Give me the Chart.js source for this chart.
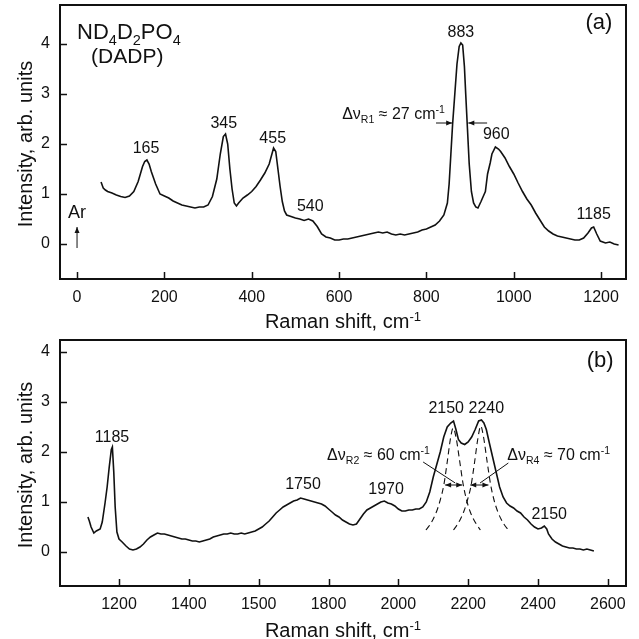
<!DOCTYPE html>
<html>
<head>
<meta charset="utf-8">
<script src="https://cdn.jsdelivr.net/npm/chart.js@4.4.1/dist/chart.umd.min.js"></script>
<style>
  html, body { margin: 0; padding: 0; background: #fff; }
  #wrap { position: relative; width: 639px; height: 639px; }
  canvas { position: absolute; left: 0; }
</style>
</head>
<body>
<div id="wrap">
  <canvas id="cA" width="639" height="335" style="top:0px"></canvas>
  <canvas id="cB" width="639" height="304" style="top:335px"></canvas>
</div>
<script>
// ---------------- DATA ----------------
// Panel (a): Raman spectrum 50-1240 cm-1
const topX = [55,60,65,70,80,90,100,110,120,130,140,150,155,160,165,170,180,190,200,210,220,230,240,250,260,270,280,290,300,310,320,328,335,340,345,350,355,360,365,370,380,390,400,410,420,430,440,450,455,460,465,470,475,480,490,500,510,520,530,540,550,560,570,580,590,600,610,620,630,640,650,660,670,680,690,700,710,720,730,740,750,760,770,780,790,800,810,820,830,840,848,852,856,860,865,870,875,879,883,887,890,894,898,903,908,913,918,925,930,935,940,946,950,958,965,970,980,990,1000,1010,1020,1030,1040,1050,1060,1070,1080,1090,1100,1110,1120,1130,1140,1150,1160,1170,1178,1183,1190,1198,1210,1220,1230,1240];
const topY = [1.24,1.12,1.08,1.05,1.02,0.98,0.95,0.93,0.96,1.05,1.25,1.55,1.65,1.68,1.60,1.45,1.20,1.00,0.96,0.92,0.86,0.82,0.78,0.76,0.74,0.72,0.74,0.74,0.78,0.95,1.30,1.80,2.15,2.20,2.00,1.50,1.10,0.82,0.76,0.82,0.92,0.98,1.05,1.15,1.28,1.42,1.60,1.92,1.85,1.50,1.15,0.85,0.66,0.58,0.55,0.52,0.50,0.47,0.50,0.46,0.35,0.20,0.14,0.12,0.08,0.08,0.10,0.10,0.12,0.14,0.16,0.18,0.20,0.22,0.24,0.22,0.24,0.20,0.18,0.20,0.18,0.20,0.22,0.24,0.28,0.30,0.34,0.38,0.46,0.58,0.82,1.20,1.80,2.40,3.00,3.60,3.95,4.02,3.98,3.55,3.00,2.30,1.60,1.05,0.82,0.74,0.72,0.85,0.95,1.05,1.40,1.62,1.80,1.94,1.90,1.85,1.72,1.55,1.40,1.22,1.05,0.90,0.78,0.62,0.48,0.34,0.26,0.20,0.16,0.14,0.12,0.10,0.08,0.08,0.12,0.22,0.32,0.34,0.20,0.06,0.02,0.04,0.00,-0.02];

// Panel (b): Raman spectrum 1110-2565 cm-1
const botX = [1111,1115,1120,1128,1135,1146,1152,1160,1166,1172,1178,1181,1185,1189,1194,1200,1209,1220,1230,1240,1250,1260,1270,1280,1290,1300,1310,1320,1330,1340,1350,1360,1370,1380,1390,1400,1410,1420,1430,1440,1450,1460,1470,1480,1490,1500,1510,1520,1530,1540,1550,1560,1570,1580,1590,1600,1610,1620,1630,1640,1650,1660,1670,1680,1690,1700,1710,1720,1730,1740,1750,1760,1770,1780,1790,1800,1810,1820,1830,1840,1850,1860,1870,1880,1890,1900,1910,1920,1930,1940,1950,1960,1970,1980,1990,2000,2010,2020,2030,2040,2050,2060,2070,2080,2090,2100,2110,2120,2130,2140,2150,2158,2165,2172,2180,2190,2200,2210,2220,2230,2238,2245,2252,2260,2270,2280,2290,2300,2310,2320,2330,2340,2350,2360,2370,2380,2390,2400,2410,2418,2425,2430,2440,2450,2460,2470,2480,2490,2500,2510,2520,2530,2540,2550,2560];
const botY = [0.70,0.62,0.50,0.38,0.42,0.46,0.60,0.98,1.30,1.70,2.05,2.10,1.60,0.90,0.40,0.26,0.20,0.12,0.06,0.04,0.06,0.10,0.16,0.24,0.30,0.34,0.38,0.36,0.36,0.34,0.32,0.30,0.28,0.26,0.26,0.24,0.22,0.22,0.20,0.22,0.24,0.26,0.30,0.32,0.34,0.36,0.36,0.38,0.36,0.36,0.38,0.36,0.38,0.40,0.42,0.46,0.50,0.56,0.62,0.70,0.78,0.84,0.90,0.94,0.98,1.02,1.04,1.08,1.06,1.04,1.02,1.00,0.98,0.96,0.92,0.86,0.80,0.74,0.70,0.64,0.60,0.56,0.54,0.56,0.66,0.76,0.84,0.88,0.92,0.96,1.00,1.02,0.98,0.96,0.92,0.86,0.82,0.82,0.84,0.84,0.86,0.86,0.90,1.00,1.20,1.50,1.75,2.00,2.30,2.50,2.58,2.62,2.45,2.25,2.18,2.15,2.20,2.30,2.45,2.62,2.64,2.58,2.45,2.20,1.90,1.60,1.30,1.10,0.98,0.92,0.88,0.82,0.78,0.70,0.64,0.56,0.50,0.46,0.48,0.52,0.46,0.36,0.26,0.20,0.16,0.12,0.10,0.08,0.08,0.06,0.06,0.04,0.06,0.04,0.02];

// Panel (b): fitted components (dashed)
const comp1X = [2079,2090,2100,2110,2120,2130,2140,2150,2157,2165,2175,2185,2195,2205,2215,2225,2235];
const comp1Y = [0.44,0.54,0.66,0.82,1.04,1.33,1.80,2.30,2.48,2.30,1.85,1.38,1.05,0.82,0.66,0.54,0.44];
const comp2X = [2158,2168,2178,2188,2198,2208,2218,2228,2236,2244,2254,2264,2274,2284,2294,2304,2315];
const comp2Y = [0.44,0.54,0.66,0.82,1.04,1.32,1.78,2.28,2.52,2.30,1.82,1.36,1.04,0.82,0.66,0.54,0.44];

// Tick values and labels
const topXTickValues = [0,200,400,600,800,1000,1200];
const topXTickLabels = ['0','200','400','600','800','1000','1200'];
const botXTickValues = [1200,1400,1600,1800,2000,2200,2400,2600];
const botXTickLabels = ['1200','1400','1500','1800','2000','2200','2400','2600'];
const yTickValues = [0,1,2,3,4];
const yTickLabels = ['0','1','2','3','4'];

// Peak labels
const topPeakLabels = ['165','345','455','540','883','960','1185'];
const topPeakPos = [158,336,448,534,879,960,1183];
const botPeakLabels = ['1185','1750','1970','2150','2240','2150'];
const botPeakPos = [1180,1727,1965,2137,2252,2432];

// ---------------- DRAWING HELPERS ----------------
const FONT = '"Liberation Sans", Arial, Helvetica, sans-serif';

function richWidth(ctx, parts, size) {
  let w = 0;
  for (const [t, m] of parts) {
    const s = m ? size * 0.66 : size;
    ctx.font = s + 'px ' + FONT;
    w += ctx.measureText(t).width;
  }
  return w;
}
function rich(ctx, x, y, parts, size, align) {
  ctx.save();
  ctx.fillStyle = '#111';
  ctx.textBaseline = 'alphabetic';
  ctx.textAlign = 'left';
  const w = richWidth(ctx, parts, size);
  let cx = x;
  if (align === 'center') cx = x - w / 2;
  else if (align === 'right') cx = x - w;
  for (const [t, m] of parts) {
    const s = m ? size * 0.66 : size;
    ctx.font = s + 'px ' + FONT;
    let dy = 0;
    if (m === 'sub') dy = size * 0.28;
    if (m === 'sup') dy = -size * 0.36;
    ctx.fillText(t, cx, y + dy);
    cx += ctx.measureText(t).width;
  }
  ctx.restore();
}
function head(ctx, x, y, ang, len, wid) {
  ctx.beginPath();
  ctx.moveTo(x, y);
  ctx.lineTo(x - len * Math.cos(ang) + wid * Math.sin(ang), y - len * Math.sin(ang) - wid * Math.cos(ang));
  ctx.lineTo(x - len * Math.cos(ang) - wid * Math.sin(ang), y - len * Math.sin(ang) + wid * Math.cos(ang));
  ctx.closePath();
  ctx.fill();
}
function arrow(ctx, x1, y1, x2, y2, endHead, startHead) {
  ctx.save();
  ctx.strokeStyle = '#111';
  ctx.fillStyle = '#111';
  ctx.lineWidth = 1;
  ctx.beginPath();
  ctx.moveTo(x1, y1);
  ctx.lineTo(x2, y2);
  ctx.stroke();
  const a = Math.atan2(y2 - y1, x2 - x1);
  if (endHead) head(ctx, x2, y2, a, 6, 2.5);
  if (startHead) head(ctx, x1, y1, a + Math.PI, 6, 2.5);
  ctx.restore();
}

function frameAndTicks(chart) {
  const ctx = chart.ctx;
  const a = chart.chartArea;
  const xs = chart.scales.x, ys = chart.scales.y;
  ctx.save();
  ctx.strokeStyle = '#111';
  ctx.lineWidth = 1.5;
  ctx.beginPath();
  for (const t of xs.ticks) {
    const px = Math.round(xs.getPixelForValue(t.value)) + 0.5;
    ctx.moveTo(px, a.bottom);
    ctx.lineTo(px, a.bottom - 7);
  }
  for (const t of ys.ticks) {
    const py = Math.round(ys.getPixelForValue(t.value)) + 0.5;
    ctx.moveTo(a.left, py);
    ctx.lineTo(a.left + 7, py);
  }
  ctx.stroke();
  ctx.lineWidth = 2;
  ctx.strokeRect(a.left, a.top, a.right - a.left, a.bottom - a.top);
  ctx.restore();
}

function axisTitles(chart, xTitleBaseline) {
  const ctx = chart.ctx;
  const a = chart.chartArea;
  rich(ctx, (a.left + a.right) / 2, xTitleBaseline, [['Raman shift, cm', ''], ['-1', 'sup']], 20, 'center');
  ctx.save();
  ctx.translate(32, (a.top + a.bottom) / 2 + 2);
  ctx.rotate(-Math.PI / 2);
  rich(ctx, 0, 0, [['Intensity, arb. units', '']], 20, 'center');
  ctx.restore();
}

const topOverlay = {
  id: 'topOverlay',
  afterDraw(chart) {
    const ctx = chart.ctx;
    const xs = chart.scales.x, ys = chart.scales.y;
    const X = v => xs.getPixelForValue(v), Y = v => ys.getPixelForValue(v);
    frameAndTicks(chart);
    axisTitles(chart, 328);
    const peakY = [1.82, 2.32, 2.02, 0.66, 4.14, 2.10, 0.51];
    topPeakLabels.forEach((t, i) => rich(ctx, X(topPeakPos[i]), Y(peakY[i]), [[t, '']], 16, 'center'));
    rich(ctx, X(0), Y(4.1), [['ND', ''], ['4', 'sub'], ['D', ''], ['2', 'sub'], ['PO', ''], ['4', 'sub']], 22, 'left');
    rich(ctx, X(115), Y(3.62), [['(DADP)', '']], 21, 'center');
    rich(ctx, X(1195), Y(4.3), [['(a)', '']], 22, 'center');
    rich(ctx, X(0), Y(0.52), [['Ar', '']], 18, 'center');
    arrow(ctx, X(0), Y(-0.08), X(0), Y(0.34), true, false);
    rich(ctx, X(607), Y(2.5), [['\u0394\u03BD', ''], ['R1', 'sub'], [' \u2248 27 cm', ''], ['-1', 'sup']], 16, 'left');
    arrow(ctx, X(822), Y(2.42), X(859), Y(2.42), true, false);
    arrow(ctx, X(939), Y(2.42), X(896), Y(2.42), true, false);
  }
};

const botOverlay = {
  id: 'botOverlay',
  afterDraw(chart) {
    const ctx = chart.ctx;
    const xs = chart.scales.x, ys = chart.scales.y;
    const X = v => xs.getPixelForValue(v), Y = v => ys.getPixelForValue(v);
    frameAndTicks(chart);
    axisTitles(chart, 302);
    const peakY = [2.2, 1.26, 1.16, 2.78, 2.78, 0.66];
    botPeakLabels.forEach((t, i) => rich(ctx, X(botPeakPos[i]), Y(peakY[i]), [[t, '']], 16, 'center'));
    rich(ctx, X(2578), Y(3.7), [['(b)', '']], 22, 'center');
    rich(ctx, X(1796), Y(1.84), [['\u0394\u03BD', ''], ['R2', 'sub'], [' \u2248 60 cm', ''], ['-1', 'sup']], 16, 'left');
    rich(ctx, X(2312), Y(1.84), [['\u0394\u03BD', ''], ['R4', 'sub'], [' \u2248 70 cm', ''], ['-1', 'sup']], 16, 'left');
    arrow(ctx, X(2071), Y(1.8), X(2163), Y(1.38), false, false);
    arrow(ctx, X(2315), Y(1.78), X(2234), Y(1.38), false, false);
    arrow(ctx, X(2134), Y(1.34), X(2183), Y(1.34), true, true);
    arrow(ctx, X(2206), Y(1.34), X(2258), Y(1.34), true, true);
  }
};

function pts(xa, ya) { return xa.map((x, i) => ({ x: x, y: ya[i] })); }

function makeOptions(xmin, xmax, ymin, ymax, xVals, xLabels, xAxisHeight, padTop) {
  return {
    responsive: false,
    animation: false,
    events: [],
    layout: { padding: { top: padTop, right: 13, left: 0, bottom: 0 } },
    plugins: { legend: { display: false }, tooltip: { enabled: false }, title: { display: false } },
    scales: {
      x: {
        type: 'linear', min: xmin, max: xmax,
        grid: { display: false, drawTicks: false },
        border: { display: false },
        ticks: {
          padding: 9, color: '#111',
          font: { family: FONT, size: 16 },
          maxRotation: 0, minRotation: 0, autoSkip: false,
          callback: (v) => {
            const i = xVals.indexOf(v);
            return i >= 0 ? xLabels[i] : '';
          }
        },
        afterBuildTicks: (s) => { s.ticks = xVals.map(v => ({ value: v })); },
        afterFit: (s) => { s.height = xAxisHeight; s.paddingLeft = 0; s.paddingRight = 0; }
      },
      y: {
        type: 'linear', min: ymin, max: ymax,
        grid: { display: false, drawTicks: false },
        border: { display: false },
        ticks: {
          padding: 10, color: '#111',
          font: { family: FONT, size: 16 },
          callback: (v) => {
            const i = yTickValues.indexOf(v);
            return i >= 0 ? yTickLabels[i] : '';
          }
        },
        afterBuildTicks: (s) => { s.ticks = yTickValues.map(v => ({ value: v })); },
        afterFit: (s) => { s.width = 60; s.paddingTop = 0; s.paddingBottom = 0; }
      }
    }
  };
}

new Chart(document.getElementById('cA'), {
  type: 'scatter',
  data: {
    datasets: [{
      data: pts(topX, topY), showLine: true, borderColor: '#111', borderWidth: 1.6,
      pointRadius: 0, tension: 0, fill: false
    }]
  },
  options: makeOptions(-39, 1257, -0.7, 4.78, topXTickValues, topXTickLabels, 56, 5),
  plugins: [topOverlay]
});

new Chart(document.getElementById('cB'), {
  type: 'scatter',
  data: {
    datasets: [
      { data: pts(botX, botY), showLine: true, borderColor: '#111', borderWidth: 1.6, pointRadius: 0, tension: 0, fill: false },
      { data: pts(comp1X, comp1Y), showLine: true, borderColor: '#111', borderWidth: 1.1, borderDash: [6, 4], pointRadius: 0, tension: 0.4, cubicInterpolationMode: 'monotone', fill: false },
      { data: pts(comp2X, comp2Y), showLine: true, borderColor: '#111', borderWidth: 1.1, borderDash: [6, 4], pointRadius: 0, tension: 0.4, cubicInterpolationMode: 'monotone', fill: false }
    ]
  },
  options: makeOptions(1031, 2652, -0.68, 4.24, botXTickValues, botXTickLabels, 53, 5),
  plugins: [botOverlay]
});
</script>
</body>
</html>
